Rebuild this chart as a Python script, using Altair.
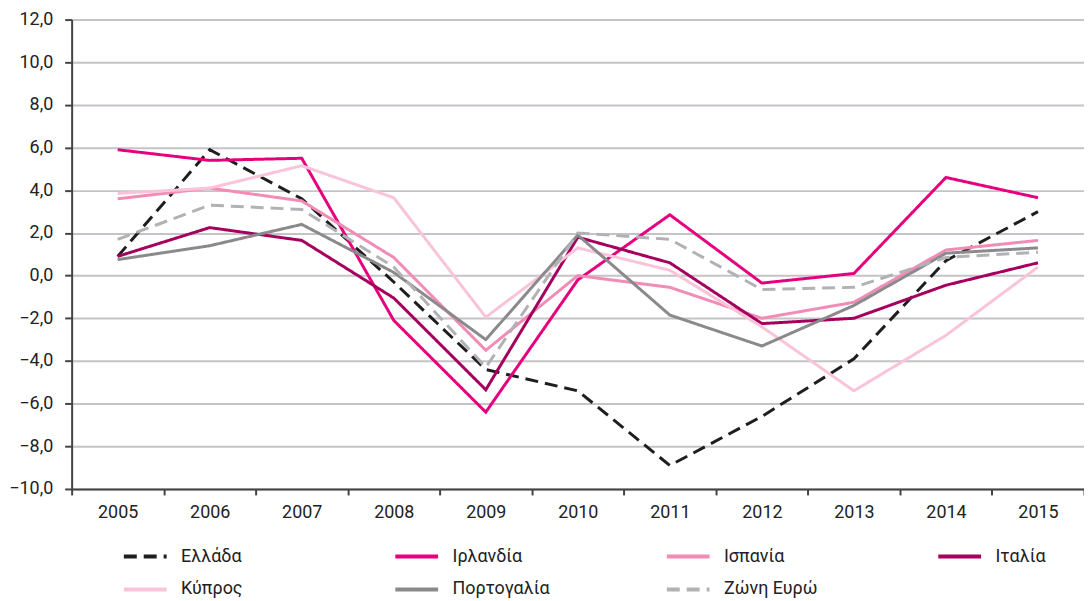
import altair as alt
import pandas as pd

years = ["2005", "2006", "2007", "2008", "2009", "2010", "2011", "2012", "2013", "2014", "2015"]

series_names = ["Ελλάδα", "Ιρλανδία", "Ισπανία", "Ιταλία", "Κύπρος", "Πορτογαλία", "Ζώνη Ευρώ"]

greece   = [0.9, 5.9, 3.6, -0.3, -4.4, -5.4, -8.9, -6.6, -3.9, 0.7, 3.0]
ireland  = [5.9, 5.4, 5.5, -2.1, -6.4, -0.2, 2.85, -0.35, 0.1, 4.6, 3.65]
spain    = [3.6, 4.1, 3.5, 0.85, -3.5, 0.0, -0.55, -2.0, -1.25, 1.2, 1.65]
italy    = [0.9, 2.25, 1.65, -1.05, -5.35, 1.8, 0.6, -2.25, -2.0, -0.45, 0.6]
cyprus   = [3.85, 4.1, 5.15, 3.65, -1.95, 1.3, 0.25, -2.4, -5.4, -2.8, 0.4]
portugal = [0.75, 1.4, 2.4, 0.15, -3.0, 1.9, -1.85, -3.3, -1.4, 1.05, 1.3]
eurozone = [1.7, 3.3, 3.1, 0.4, -4.3, 2.0, 1.7, -0.65, -0.55, 0.85, 1.1]

all_values = [greece, ireland, spain, italy, cyprus, portugal, eurozone]

colors = ["#1e1e1e", "#e6007e", "#f08cb6", "#a5005e", "#f9c4d9", "#8a8a8c", "#b2b2b6"]
dashes = [[13, 7], [1, 0], [1, 0], [1, 0], [1, 0], [1, 0], [13, 7]]

rows = []
for name, vals in zip(series_names, all_values):
    for y, v in zip(years, vals):
        rows.append({"series": name, "year": y, "value": v})
df = pd.DataFrame(rows)

FONT = "Roboto"

legend = alt.Legend(
    orient="none", legendX=50, legendY=516, title=None, columns=4,
    direction="horizontal",
    symbolType="stroke", symbolSize=1850, symbolStrokeWidth=4,
    labelFontSize=18, labelFont=FONT, labelColor="#222222",
    columnPadding=109, rowPadding=-16, gridAlign="all", labelOffset=12,
    labelLimit=200,
)

chart = alt.Chart(df).mark_line(strokeWidth=3).encode(
    x=alt.X("year:O", bandPosition=0.5,
            scale=alt.Scale(type="band", paddingInner=0, paddingOuter=0),
            axis=alt.Axis(title=None, labelAngle=0, tickBand="extent", grid=False,
                          tickSize=6, tickColor="#444444", tickWidth=2,
                          domainColor="#444444", domainWidth=2,
                          labelFont=FONT, labelFontSize=18, labelColor="#222222",
                          labelPadding=9)),
    y=alt.Y("value:Q", scale=alt.Scale(domain=[-10, 12], nice=False),
            axis=alt.Axis(title=None, values=list(range(-10, 13, 2)),
                          labelExpr="replace(format(datum.value, '.1f'), '.', ',')",
                          grid=True, gridColor="#c4c4c8", gridWidth=2,
                          tickSize=7, tickColor="#444444", tickWidth=2,
                          domainColor="#444444", domainWidth=2,
                          labelFont=FONT, labelFontSize=18, labelColor="#222222",
                          labelPadding=12)),
    color=alt.Color("series:N", scale=alt.Scale(domain=series_names, range=colors),
                    sort=series_names, legend=legend),
    strokeDash=alt.StrokeDash("series:N", scale=alt.Scale(domain=series_names, range=dashes),
                              sort=series_names, legend=legend),
).properties(
    width=1018, height=472,
    autosize=alt.AutoSizeParams(type="none"),
    padding={"left": 64, "top": 10, "right": 0, "bottom": 108},
).configure_view(stroke=None)

chart.save("out.html", embed_options={"renderer": "svg", "actions": False})
